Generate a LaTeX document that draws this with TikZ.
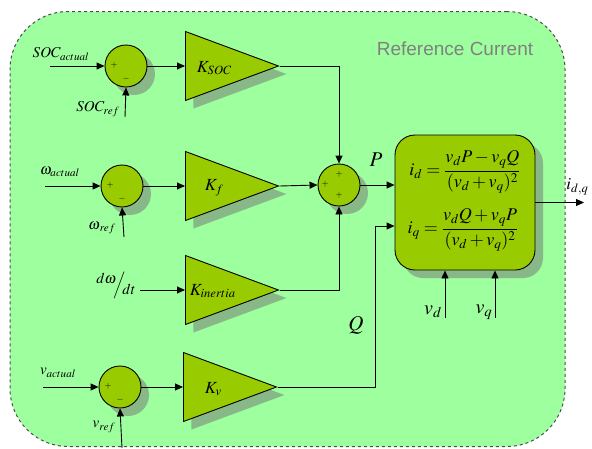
\documentclass[tikz,border=0pt]{standalone}
\usepackage{amsmath}
\usepackage{mathptmx}
\usepackage{fontspec}
\setmainfont{Liberation Serif}
\newfontfamily\labelfont{Liberation Sans}
\usetikzlibrary{arrows.meta,shapes.geometric,shadows}
\definecolor{bggreen}{RGB}{158,255,158}
\definecolor{blkgreen}{RGB}{153,204,0}

\begin{document}
\begin{tikzpicture}[
    x=1pt, y=-1pt,
    >={Triangle[length=8pt, width=7pt]},
    line width=0.9pt,
    shade/.style={drop shadow={shadow xshift=8pt, shadow yshift=-8pt, fill=black!55, opacity=.5}},
    sumnode/.style={circle, draw, fill=blkgreen, minimum size=42pt, inner sep=0pt, shade},
    gain/.style={isosceles triangle, isosceles triangle stretches, draw, fill=blkgreen,
        minimum height=93pt, minimum width=69pt, inner sep=0pt, anchor=west, shade},
    sign/.style={font=\fontsize{9}{10}\selectfont, inner sep=0pt},
    lbl/.style={font=\fontsize{15}{17}\selectfont, inner sep=0pt}
]
    \useasboundingbox (0,0) rectangle (592,448);

    % 背景区域
    \node[draw=black!70, dashed, fill=bggreen, rounded corners=58pt, line width=1pt,
        minimum width=555pt, minimum height=435pt, inner sep=0pt] (area) at (287.5,229) {};
    \node[font=\labelfont\fontsize{19}{21}\selectfont, text=black!50] (title) at (455,49) {Reference Current};

    % 节点定义 (比较器, 增益, 求和, 计算框)
    \node[sumnode] (S1) at (126,66) {};      % SOC 比较器
    \node[sumnode] (S2a) at (122,186) {};    % 频率比较器
    \node[sumnode] (S3) at (120,387) {};     % 电压比较器
    \node[sumnode] (S2) at (339,185) {};     % 求和点

    \node[gain] (Ksoc) at (185,66) {};
    \node[gain] (Kf) at (185,186) {};
    \node[gain] (Kin) at (185,290) {};
    \node[gain] (Kv) at (183,387) {};

    \node[draw, fill=blkgreen, rounded corners=20pt, minimum width=140pt,
        minimum height=135pt, shade] (box) at (465,202.5) {};

    % 增益标签
    \node[font=\fontsize{17}{19}\selectfont, anchor=west] (kl1) at (193,68) {$K_{SOC}$};
    \node[font=\fontsize{17}{19}\selectfont, anchor=west] (kl2) at (201,188) {$K_f$};
    \node[font=\fontsize{17}{19}\selectfont, anchor=west] (kl3) at (186,291) {$K_{inertia}$};
    \node[font=\fontsize{17}{19}\selectfont, anchor=west] (kl4) at (201,389) {$K_v$};

    % 符号
    \node[sign] (s1p) at (114,65) {$+$};
    \node[sign] (s1m) at (126,79) {$-$};
    \node[sign] (s2p) at (110,185) {$+$};
    \node[sign] (s2m) at (122,199) {$-$};
    \node[sign] (s3p) at (108,386) {$+$};
    \node[sign] (s3m) at (120,400) {$-$};
    \node[sign] (s4t) at (339,174) {$+$};
    \node[sign] (s4l) at (325,184) {$+$};
    \node[sign] (s4b) at (339,195) {$+$};

    % 输入端
    \coordinate (socin) at (50,66);
    \coordinate (socref) at (125,117);
    \coordinate (win) at (45,186);
    \coordinate (wref) at (124,237);
    \coordinate (dwin) at (140,290);
    \coordinate (vin) at (43,387);
    \coordinate (vref) at (122,448);
    \coordinate (vdin) at (445,318);
    \coordinate (vqin) at (495,318);
    \coordinate (qturn) at (375,226);
    \coordinate (iout) at (584,202.5);

    \node[lbl] (socl) at (61,54) {$SOC_{actual}$};
    \node[lbl] (socrl) at (98,109) {$SOC_{ref}$};
    \node[lbl] (wl) at (60,172) {$\omega_{actual}$};
    \node[lbl] (wrl) at (102,228) {$\omega_{\,ref}$};
    \node[lbl] (dwl) at (116,285)
        {\raisebox{5pt}{$d\omega$}\hspace{-3pt}$\Big/$\hspace{-3pt}\raisebox{-6pt}{$dt$}};
    \node[lbl] (vl) at (58,373) {$v_{actual}$};
    \node[lbl] (vrl) at (104,427) {$v_{ref}$};
    \node[lbl, font=\fontsize{21}{23}\selectfont] (pl) at (376,160) {$P$};
    \node[lbl, font=\fontsize{21}{23}\selectfont] (ql) at (356,325) {$Q$};
    \node[lbl, font=\fontsize{20}{22}\selectfont] (vdl) at (433,312) {$v_d$};
    \node[lbl, font=\fontsize{20}{22}\selectfont] (vql) at (484,312) {$v_q$};
    \node[lbl, font=\fontsize{17}{19}\selectfont, anchor=west] (il) at (566,187) {$i_{d,q}$};

    % 计算公式
    \node[font=\fontsize{18}{20}\selectfont, inner sep=0pt] (eqd) at (465,172)
        {$i_d=\dfrac{v_dP-v_qQ}{(v_d+v_q)^2}$};
    \node[font=\fontsize{18}{20}\selectfont, inner sep=0pt] (eqq) at (463,230)
        {$i_q=\dfrac{v_dQ+v_qP}{(v_d+v_q)^2}$};

    % 1. 比较器输入
    \draw[->] (socin) -- (S1);
    \draw[->] (socref) -- (S1.south);
    \draw[->] (win) -- (S2a);
    \draw[->] (wref) -- (S2a.south);
    \draw[->] (vin) -- (S3);
    \draw[->] (vref) -- (S3.south);

    % 2. 比较器到增益
    \draw[->] (S1) -- (Ksoc.west);
    \draw[->] (S2a) -- (Kf.west);
    \draw[->] (dwin) -- (Kin.west);
    \draw[->] (S3) -- (Kv.west);

    % 3. 增益到求和点
    \draw[->] (Ksoc.east) -| (S2.north);
    \draw[->] (Kf.east) -- (S2.west);
    \draw[->] (Kin.east) -| (S2.south);

    % 4. P, Q 到计算框
    \draw[->] (S2.east) -- (S2.east -| box.west);
    \draw[->] (Kv.east) -| (qturn) -- (qturn -| box.west);
    \draw[->] (vdin) -- (vdin |- box.south);
    \draw[->] (vqin) -- (vqin |- box.south);
    \draw[->] (box.east) -- (iout);

\end{tikzpicture}
\end{document}
